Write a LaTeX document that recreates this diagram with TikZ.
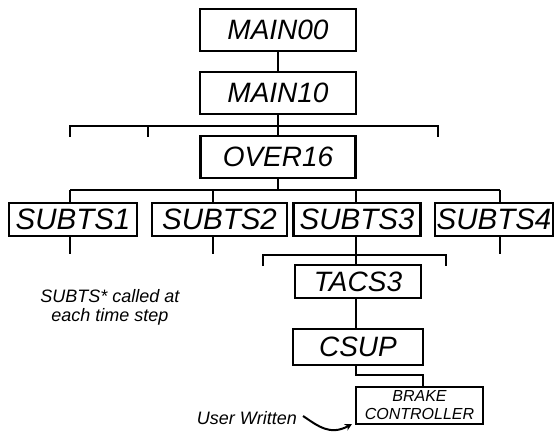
\documentclass[tikz,border=0pt]{standalone}
\usepackage{fontspec}
\setmainfont{Liberation Sans}
\usetikzlibrary{arrows.meta}
\begin{document}
\begin{tikzpicture}[x=1pt,y=-1pt,
  box/.style={draw,line width=2.2pt,inner sep=0pt,font=\fontsize{28}{30}\selectfont\itshape},
  sbox/.style={box,minimum height=33,font=\fontsize{29.5}{31}\selectfont\itshape},
  conn/.style={line width=2.2pt},
  note/.style={font=\fontsize{18}{19}\selectfont\itshape,align=center,inner sep=0pt}]
\useasboundingbox (0,0) rectangle (557,433);
% boxes
\node[box,minimum width=156,minimum height=42] (m00) at (278,30) {MAIN00};
\node[box,minimum width=156,minimum height=42] (m10) at (278,93) {MAIN10};
\node[box,minimum width=155,minimum height=42] (o16) at (278,157) {OVER16};
\node[sbox,minimum width=128] (s1) at (73,219.5) {SUBTS1};
\node[sbox,minimum width=135] (s2) at (219.5,219.5) {SUBTS2};
\node[sbox,minimum width=127] (s3) at (357,219.5) {SUBTS3};
\node[sbox,minimum width=118] (s4) at (494,219.5) {SUBTS4};
\node[box,minimum width=126,minimum height=33] (t3) at (358,281.5) {TACS3};
\node[box,minimum width=130,minimum height=36] (cs) at (358,347) {CSUP};
\node[box,minimum width=127,minimum height=37,align=center,font=\fontsize{16}{18}\selectfont\itshape] (br) at (419.5,405.5) {BRAKE\\CONTROLLER};
\node[note] (nt) at (110,307) {SUBTS* called at\\each time step};
\node[note,anchor=east] (uw) at (297,418) {User Written};
% connectors
\draw[conn] (m00.south) -- (m10.north);
\draw[conn] (m10.south) -- (o16.north);
\coordinate (b1w) at (70,126);
\coordinate (b1m) at (148,126);
\coordinate (b1e) at (438,126);
\draw[conn] (b1w) ++(0,11) -- (b1w) -- (b1e) -- ++(0,11);
\draw[conn] (b1m) -- ++(0,11);
\coordinate (b2w) at (70,190);
\coordinate (b2b) at (213,190);
\coordinate (b2c) at (356,190);
\coordinate (b2e) at (500,190);
\draw[conn] (o16.south) -- (o16.south |- b2w);
\draw[conn] (b2w) -- (b2e);
\draw[conn] (b2w) -- (b2w |- s1.north);
\draw[conn] (b2b) -- (b2b |- s2.north);
\draw[conn] (b2c) -- (b2c |- s3.north);
\draw[conn] (b2e) -- (b2e |- s4.north);
\draw[conn] (s1.south -| b2w) -- ++(0,17);
\draw[conn] (s2.south -| b2b) -- ++(0,17);
\draw[conn] (s4.south -| b2e) -- ++(0,17);
\coordinate (b3w) at (263,255);
\coordinate (b3e) at (446,255);
\draw[conn] (s3.south -| b2c) -- (b2c |- b3w);
\draw[conn] (b3w) ++(0,11) -- (b3w) -- (b3e) -- ++(0,11);
\draw[conn] (b2c |- b3w) -- (b2c |- t3.north);
\draw[conn] (t3.south -| b2c) -- (b2c |- cs.north);
\coordinate (k) at (423,375);
\draw[conn] (cs.south -| b2c) |- (k) -- (k |- br.north);
\coordinate (tip) at (352,424);
\draw[line width=2pt,-{Stealth[length=7pt,width=7pt]}] ([xshift=6pt,yshift=2pt]uw.east) .. controls (318,426) and (330,436) .. (tip);
\end{tikzpicture}
\end{document}
